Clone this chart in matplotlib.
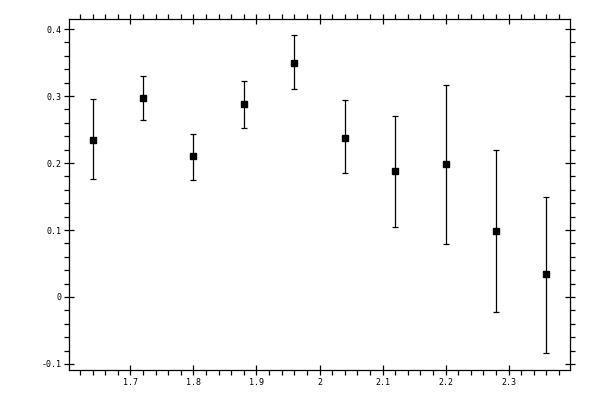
import numpy as np
import matplotlib
matplotlib.use('Agg')
import matplotlib.pyplot as plt
from matplotlib.ticker import MultipleLocator, FixedLocator

# values
x = [1.64, 1.72, 1.80, 1.88, 1.96, 2.04, 2.12, 2.20, 2.28, 2.36]
y = [0.235, 0.297, 0.210, 0.288, 0.350, 0.238, 0.188, 0.198, 0.099, 0.034]
y_top = [0.295, 0.330, 0.244, 0.323, 0.391, 0.294, 0.270, 0.317, 0.219, 0.150]
y_bot = [0.176, 0.264, 0.175, 0.252, 0.310, 0.185, 0.104, 0.079, -0.023, -0.084]

x_ticks = [1.7, 1.8, 1.9, 2.0, 2.1, 2.2, 2.3]
x_labels = ['1.7', '1.8', '1.9', '2', '2.1', '2.2', '2.3']
y_ticks = [-0.1, 0.0, 0.1, 0.2, 0.3, 0.4]
y_labels = ['-0.1', '0', '0.1', '0.2', '0.3', '0.4']

plt.rcParams['font.family'] = ['DejaVu Sans Mono']

y = np.array(y)
yerr = [y - np.array(y_bot), np.array(y_top) - y]

fig = plt.figure(figsize=(6, 4), dpi=100)
ax = fig.add_axes([0.115, 0.075, 0.835, 0.8775])

ax.errorbar(x, y, yerr=yerr, fmt='s', color='black', ms=5,
            elinewidth=0.9, capsize=2.5, capthick=0.9, mec='black', mfc='black')

ax.set_xlim(1.6024, 2.3976)
ax.set_ylim(-0.109, 0.415)

ax.xaxis.set_major_locator(FixedLocator(x_ticks))
ax.set_xticklabels(x_labels)
ax.xaxis.set_minor_locator(MultipleLocator(0.02))
ax.yaxis.set_major_locator(FixedLocator(y_ticks))
ax.set_yticklabels(y_labels)
ax.yaxis.set_minor_locator(MultipleLocator(0.02))

for s in ax.spines.values():
    s.set_linewidth(0.9)

ax.tick_params(which='both', top=True, right=True, labeltop=False, labelright=False,
               width=0.9, labelsize=6, color='black')
ax.tick_params(which='major', direction='inout', length=7, pad=2)
ax.tick_params(which='minor', direction='out', length=3.5)

fig.savefig('out.png', dpi=100)
